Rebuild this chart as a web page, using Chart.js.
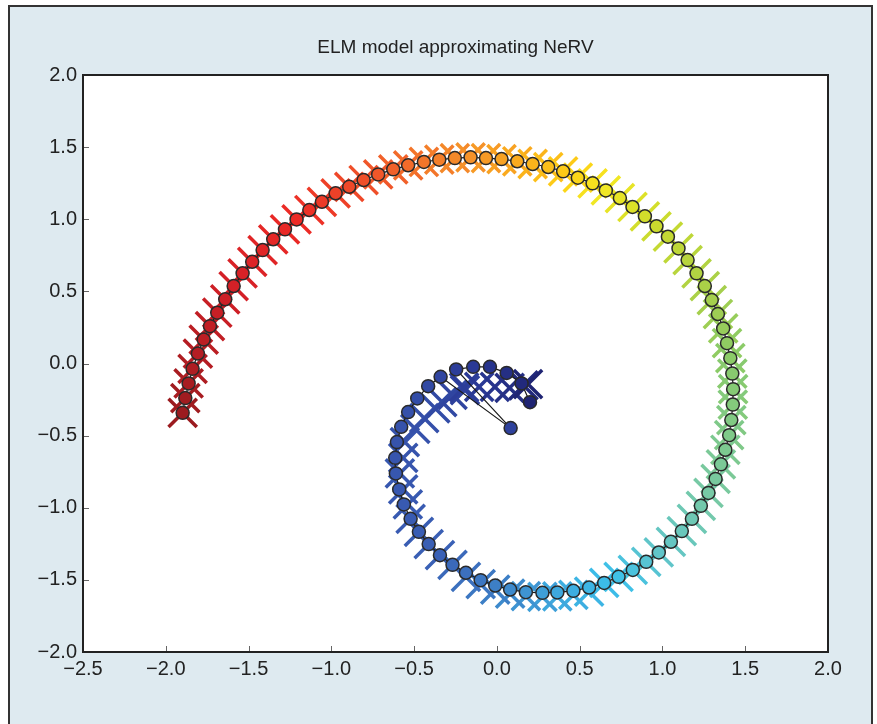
<!DOCTYPE html>
<html>
<head>
<meta charset="utf-8">
<title>ELM model approximating NeRV</title>
<script src="https://cdn.jsdelivr.net/npm/chart.js@4.4.0/dist/chart.umd.min.js"></script>
<style>
  html, body { margin: 0; padding: 0; background: #fff; }
  #frame { position: absolute; left: 8px; top: 5px; width: 861px; height: 740px; background: #deeaf0; border: 2px solid #333; }
  #wrap { position: absolute; left: 0; top: 0; width: 877px; height: 724px; }
</style>
</head>
<body>
<div id="frame"></div>
<div id="wrap"><canvas id="elmChart"></canvas></div>
<script>
// ELM output (circles), in spiral order
var elmX = [-1.898, -1.882, -1.862, -1.838, -1.806, -1.771, -1.733, -1.689, -1.641, -1.590,
            -1.536, -1.478, -1.415, -1.351, -1.280, -1.210, -1.133, -1.057, -0.974, -0.892,
            -0.805, -0.717, -0.626, -0.536, -0.441, -0.348, -0.254, -0.159, -0.066, 0.028,
            0.123, 0.216, 0.310, 0.400, 0.489, 0.578, 0.658, 0.743, 0.819, 0.894,
            0.964, 1.033, 1.097, 1.152, 1.206, 1.256, 1.298, 1.335, 1.367, 1.390,
            1.410, 1.422, 1.427, 1.425, 1.416, 1.403, 1.380, 1.353, 1.321, 1.278,
            1.232, 1.178, 1.117, 1.051, 0.978, 0.902, 0.821, 0.735, 0.648, 0.557,
            0.462, 0.365, 0.275, 0.175, 0.080, -0.010, -0.098, -0.187, -0.268, -0.344,
            -0.412, -0.471, -0.521, -0.562, -0.590, -0.610, -0.614, -0.604, -0.578, -0.536,
            -0.481, -0.415, -0.340, 0.083, -0.246, -0.143, -0.042, 0.059, 0.149, 0.200];
var elmY = [-0.342, -0.240, -0.138, -0.037, 0.069, 0.166, 0.259, 0.352, 0.445, 0.537,
            0.625, 0.705, 0.786, 0.861, 0.930, 0.999, 1.064, 1.121, 1.180, 1.225,
            1.272, 1.311, 1.346, 1.374, 1.397, 1.413, 1.424, 1.429, 1.424, 1.417,
            1.402, 1.383, 1.362, 1.332, 1.288, 1.249, 1.200, 1.147, 1.085, 1.020,
            0.951, 0.879, 0.798, 0.717, 0.625, 0.537, 0.440, 0.343, 0.243, 0.141,
            0.037, -0.070, -0.178, -0.285, -0.392, -0.497, -0.598, -0.699, -0.800, -0.897,
            -0.987, -1.077, -1.162, -1.236, -1.310, -1.375, -1.431, -1.479, -1.521, -1.553,
            -1.576, -1.587, -1.590, -1.585, -1.567, -1.539, -1.502, -1.451, -1.396, -1.329,
            -1.252, -1.167, -1.077, -0.977, -0.873, -0.762, -0.654, -0.545, -0.439, -0.337,
            -0.242, -0.157, -0.092, -0.448, -0.041, -0.023, -0.023, -0.065, -0.138, -0.268];

// NeRV targets (crosses)
var nervX = [-1.898, -1.882, -1.862, -1.838, -1.806, -1.771, -1.733, -1.689, -1.641, -1.590,
             -1.536, -1.478, -1.415, -1.351, -1.280, -1.210, -1.133, -1.057, -0.974, -0.892,
             -0.805, -0.717, -0.626, -0.536, -0.441, -0.348, -0.254, -0.159, -0.066, 0.028,
             0.123, 0.216, 0.310, 0.400, 0.489, 0.578, 0.658, 0.743, 0.819, 0.894,
             0.964, 1.033, 1.097, 1.152, 1.206, 1.256, 1.298, 1.335, 1.367, 1.390,
             1.410, 1.422, 1.427, 1.425, 1.416, 1.403, 1.380, 1.353, 1.321, 1.278,
             1.232, 1.178, 1.117, 1.051, 0.978, 0.902, 0.821, 0.735, 0.648, 0.557,
             0.462, 0.365, 0.275, 0.175, 0.080, -0.010, -0.098, -0.187, -0.268, -0.344,
             -0.412, -0.471, -0.521, -0.538, -0.566, -0.586, -0.566, -0.556, -0.493, -0.439,
             -0.372, -0.330, -0.268, -0.193, -0.198, -0.107, -0.012, 0.077, 0.161, 0.188];
var nervY = [-0.342, -0.240, -0.138, -0.037, 0.069, 0.166, 0.259, 0.352, 0.445, 0.537,
             0.625, 0.705, 0.786, 0.861, 0.930, 0.999, 1.064, 1.121, 1.180, 1.225,
             1.272, 1.311, 1.346, 1.374, 1.397, 1.413, 1.424, 1.429, 1.424, 1.417,
             1.402, 1.383, 1.362, 1.332, 1.288, 1.249, 1.200, 1.147, 1.085, 1.020,
             0.951, 0.879, 0.798, 0.717, 0.625, 0.537, 0.440, 0.343, 0.243, 0.141,
             0.037, -0.070, -0.178, -0.285, -0.392, -0.497, -0.598, -0.699, -0.800, -0.897,
             -0.987, -1.077, -1.162, -1.236, -1.310, -1.375, -1.431, -1.479, -1.521, -1.581,
             -1.604, -1.615, -1.618, -1.613, -1.595, -1.567, -1.530, -1.479, -1.396, -1.329,
             -1.252, -1.167, -1.077, -0.977, -0.873, -0.762, -0.654, -0.545, -0.453, -0.379,
             -0.311, -0.268, -0.217, -0.184, -0.166, -0.162, -0.162, -0.169, -0.152, -0.143];

var xTicks = [-2.5, -2.0, -1.5, -1.0, -0.5, 0.0, 0.5, 1.0, 1.5, 2.0];
var yTicks = [-2.0, -1.5, -1.0, -0.5, 0.0, 0.5, 1.0, 1.5, 2.0];

// jet-like colours sampled from the figure, by position along the spiral
var colourStops = [
  [0.00, [155, 27, 31]], [0.09, [212, 32, 39]], [0.15, [236, 42, 38]],
  [0.21, [240, 85, 42]], [0.27, [245, 144, 42]], [0.31, [251, 176, 28]],
  [0.34, [253, 210, 23]], [0.36, [244, 232, 35]], [0.40, [205, 220, 44]],
  [0.46, [168, 208, 74]], [0.50, [140, 203, 101]], [0.56, [126, 201, 140]],
  [0.60, [118, 201, 168]], [0.65, [94, 197, 204]], [0.68, [60, 192, 234]],
  [0.72, [62, 166, 220]], [0.76, [61, 125, 197]], [0.80, [58, 96, 181]],
  [0.90, [53, 80, 170]], [0.96, [42, 57, 149]], [1.00, [31, 36, 115]]
];
function colourAt(t) {
  for (var i = 1; i < colourStops.length; i++) {
    if (t <= colourStops[i][0]) {
      var a = colourStops[i - 1], b = colourStops[i];
      var f = (t - a[0]) / (b[0] - a[0]);
      var c = a[1].map(function (v, k) { return Math.round(v + (b[1][k] - v) * f); });
      return 'rgb(' + c.join(',') + ')';
    }
  }
  return 'rgb(31,36,115)';
}
var colours = elmX.map(function (v, i) { return colourAt(i / (elmX.length - 1)); });

var elmPoints = elmX.map(function (x, i) { return { x: x, y: elmY[i] }; });
var nervPoints = nervX.map(function (x, i) { return { x: x, y: nervY[i] }; });

function fmt(v) { return v.toFixed(1).replace('-', '\u2212'); }

var fontFamily = "'Liberation Sans', Arial, sans-serif";
var tickFont = { family: fontFamily, size: 20 };

// white plot box, black frame, inward ticks on left and bottom
var plotFrame = {
  id: 'plotFrame',
  beforeDraw: function (chart) {
    var a = chart.chartArea, ctx = chart.ctx;
    ctx.save();
    ctx.fillStyle = '#fff';
    ctx.fillRect(a.left, a.top, a.right - a.left, a.bottom - a.top);
    ctx.restore();
  },
  afterDraw: function (chart) {
    var a = chart.chartArea, ctx = chart.ctx;
    ctx.save();
    ctx.strokeStyle = '#666';
    ctx.lineWidth = 1;
    ctx.beginPath();
    xTicks.forEach(function (v) {
      var px = Math.round(chart.scales.x.getPixelForValue(v)) + 0.5;
      ctx.moveTo(px, a.bottom); ctx.lineTo(px, a.bottom - 6);
    });
    yTicks.forEach(function (v) {
      var py = Math.round(chart.scales.y.getPixelForValue(v)) + 0.5;
      ctx.moveTo(a.left, py); ctx.lineTo(a.left + 6, py);
    });
    ctx.stroke();
    ctx.strokeStyle = '#222';
    ctx.lineWidth = 2;
    ctx.strokeRect(a.left, a.top, a.right - a.left, a.bottom - a.top);
    ctx.restore();
  }
};

var ctx = document.getElementById('elmChart').getContext('2d');
new Chart(ctx, {
  type: 'scatter',
  data: {
    datasets: [{
      label: 'ELM',
      data: elmPoints,
      showLine: true,
      borderColor: '#1a1a1a',
      borderWidth: 1.2,
      pointRadius: 6.5,
      pointBackgroundColor: colours,
      pointBorderColor: '#2a2a2a',
      pointBorderWidth: 1.5,
      order: 0
    }, {
      label: 'NeRV',
      data: nervPoints,
      showLine: false,
      pointStyle: 'crossRot',
      pointRadius: 20,
      pointBorderWidth: 3.5,
      pointBorderColor: colours,
      order: 1
    }]
  },
  options: {
    responsive: true,
    maintainAspectRatio: false,
    animation: false,
    events: [],
    layout: { padding: { left: 30, right: 49, top: 0, bottom: 0 } },
    plugins: {
      legend: { display: false },
      tooltip: { enabled: false }
    },
    scales: {
      x: {
        type: 'linear',
        min: -2.5, max: 2.0,
        afterBuildTicks: function (s) { s.ticks = xTicks.map(function (v) { return { value: v }; }); },
        afterFit: function (s) { s.height = 72; },
        grid: { display: false, drawTicks: false, tickLength: 0 },
        border: { display: false },
        ticks: { color: '#222', font: tickFont, padding: 5, maxRotation: 0, callback: fmt }
      },
      // top axis only carries the title, so it is centred on the plot box
      top: {
        type: 'linear',
        position: 'top',
        min: -2.5, max: 2.0,
        afterFit: function (s) { s.height = 75; },
        grid: { display: false, drawTicks: false },
        border: { display: false },
        ticks: { display: false },
        title: {
          display: true,
          text: 'ELM model approximating NeRV',
          color: '#222',
          font: { family: fontFamily, size: 19 },
          padding: { top: 36, bottom: 0 }
        }
      },
      y: {
        type: 'linear',
        min: -2.0, max: 2.0,
        afterBuildTicks: function (s) { s.ticks = yTicks.map(function (v) { return { value: v }; }); },
        afterFit: function (s) { s.width = 53; },
        grid: { display: false, drawTicks: false, tickLength: 0 },
        border: { display: false },
        ticks: { color: '#222', font: tickFont, padding: 6, callback: fmt }
      }
    }
  },
  plugins: [plotFrame]
});
</script>
</body>
</html>
